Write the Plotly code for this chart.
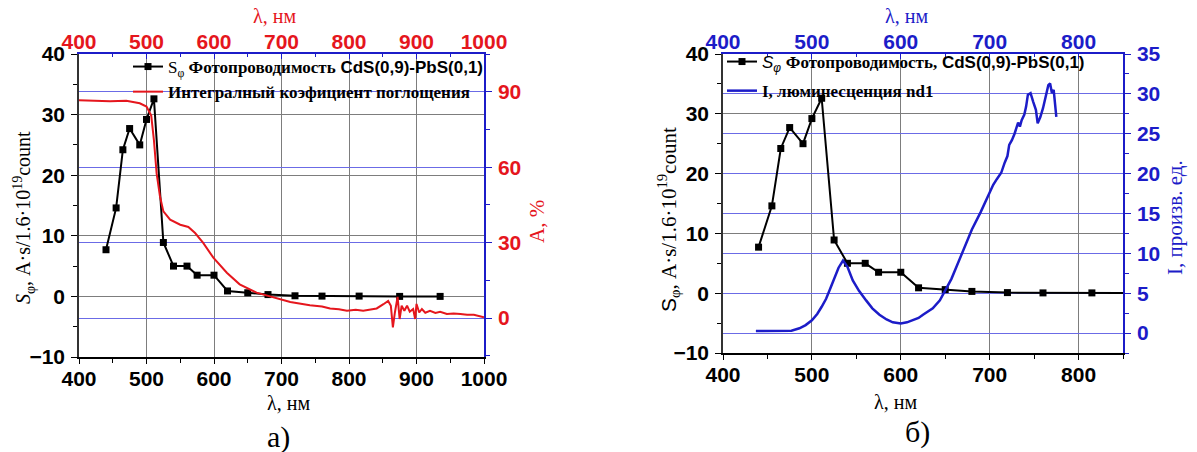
import plotly.graph_objects as go

# ---------------- data ----------------
# photoconductivity S_phi (both panels)
lam_s = [440, 455, 465, 475, 490, 500, 511, 525, 540, 560, 575, 600, 620, 650, 680, 720, 760, 815, 875, 935]
s_phi = [7.7, 14.6, 24.2, 27.7, 25.0, 29.2, 32.6, 8.9, 5.0, 5.0, 3.5, 3.5, 0.9, 0.6, 0.3, 0.1, 0.05, 0.05, 0.0, 0.0]

# integral absorption coefficient A, % (panel a)
lam_a = [400, 446, 470, 490, 500, 507, 511, 515, 520, 525, 535, 550, 562, 572, 584, 599, 619, 638, 663,
         688, 713, 742, 760, 772, 785, 797, 810, 821, 833, 841, 851, 858, 862, 865, 868, 872, 875, 878,
         882, 886, 890, 895, 898, 900, 904, 908, 913, 920, 928, 935, 945, 955, 965, 975, 985, 995, 1000]
absorb = [86.6, 86.2, 86.4, 85.4, 84.1, 80.5, 70.7, 57.5, 48.3, 42.4, 39.1, 37.1, 36.2, 33.8, 29.9, 24.0,
          18.0, 13.4, 10.1, 8.2, 6.4, 5.1, 4.6, 3.8, 3.5, 2.9, 3.3, 2.9, 3.4, 3.8, 5.5, 6.8, 4.9, -3.7,
          2.2, 8.4, -0.4, 4.9, 2.9, 4.9, 2.5, 3.6, -0.4, 5.6, 2.2, 3.6, 2.1, 2.9, 2.0, 2.5, 1.6, 1.8,
          1.6, 1.3, 1.3, 0.5, 0.3]

# luminescence I, arb. units (panel b)
lam_i = [437, 450, 465, 477, 486, 493, 500, 506, 511, 516, 520, 525, 530, 535, 540, 546, 553, 561, 568,
         576, 584, 591, 600, 607, 614, 620, 625, 631, 636, 644, 651, 657, 663, 668, 672, 680, 690, 700,
         704, 708, 713, 717, 720, 722, 725, 728, 730, 732, 734, 736, 739, 741, 743, 746, 749, 752, 754,
         757, 760, 763, 766, 768, 770, 772, 775]
lum = [0.25, 0.25, 0.25, 0.3, 0.6, 1.0, 1.6, 2.4, 3.3, 4.3, 5.4, 6.9, 8.2, 9.1, 8.3, 6.6, 5.3, 4.1, 3.1,
       2.3, 1.7, 1.35, 1.2, 1.35, 1.6, 1.9, 2.3, 2.7, 3.1, 4.1, 5.6, 6.8, 8.4, 9.8, 11.0, 13.0, 15.2, 17.7,
       18.6, 19.3, 20.1, 21.4, 22.2, 23.6, 24.2, 25.0, 25.7, 26.4, 25.9, 26.7, 27.4, 28.4, 29.9, 30.1,
       29.0, 28.0, 26.3, 27.1, 28.2, 29.6, 31.1, 31.3, 30.1, 30.5, 27.1]

# ---------------- style ----------------
W, H = 1197, 452
BLACK = "#000000"
RED = "#e5161d"
BLUE = "#1c1cc8"
GRID_GRAY = "#7d7d7d"
GRID_BLUE = "#6b6be6"
SANS = "Liberation Sans"
SERIF = "Liberation Serif"

def px(x):
    return x / W

def py(y):
    return 1 - y / H

L_X = [px(79), px(484)]
R_X = [px(723), px(1123)]
L_Y = [py(357), py(54)]
R_Y = [py(353), py(54)]

fig = go.Figure()

fig.add_trace(go.Scatter(
    x=lam_s, y=s_phi, xaxis="x", yaxis="y", mode="lines+markers",
    line=dict(color=BLACK, width=2), marker=dict(symbol="square", size=7, color=BLACK),
    name=("<span style='font-family:Liberation Serif'>S<sub>φ</sub> <b>Фотопроводимость</b></span>"
          " <b>CdS(0,9)-PbS(0,1)</b>"),
    legend="legend", legendgroup="a1"))
fig.add_trace(go.Scatter(
    x=lam_a, y=absorb, xaxis="x2", yaxis="y2", mode="lines",
    line=dict(color=RED, width=2),
    name="<span style='font-family:Liberation Serif'><b>Интегралный коэфициент поглощения</b></span>",
    legend="legend", legendgroup="a2"))
fig.add_trace(go.Scatter(
    x=lam_s, y=s_phi, xaxis="x3", yaxis="y3", mode="lines+markers",
    line=dict(color=BLACK, width=2), marker=dict(symbol="square", size=7, color=BLACK),
    name=("<i>S<sub>φ</sub></i> <span style='font-family:Liberation Serif'><b>Фотопроводимость,</b></span>"
          " <b>CdS(0,9)-PbS(0,1)</b>"),
    legend="legend2", legendgroup="b1"))
fig.add_trace(go.Scatter(
    x=lam_i, y=lum, xaxis="x4", yaxis="y4", mode="lines",
    line=dict(color=BLUE, width=2.5),
    name="<span style='font-family:Liberation Serif'><b>I, люминесценция nd1</b></span>",
    legend="legend2", legendgroup="b2"))

tickfont_k = dict(family=SANS, size=21, color=BLACK, weight="bold")
tickfont_r = dict(family=SANS, size=21, color=RED, weight="bold")
tickfont_b = dict(family=SANS, size=21, color=BLUE, weight="bold")
BOLD = dict(tickprefix="<b>", ticksuffix="</b>", automargin=False)

def xbottom(domain, rng, anchor, dtick=100):
    return dict(domain=domain, range=rng, anchor=anchor, side="bottom", dtick=dtick, tick0=0,
                showline=True, linecolor=BLACK, linewidth=1.5, ticks="outside", ticklen=5,
                tickcolor=BLACK, tickfont=tickfont_k, showgrid=True, gridcolor=GRID_GRAY,
                gridwidth=1, zeroline=False, ticklabelstandoff=-3,
                minor=dict(ticks="outside", ticklen=4, dtick=50, tickcolor=BLACK, showgrid=False),
                **BOLD)

def xtop(domain, rng, anchor, overlay, font):
    return dict(domain=domain, range=rng, anchor=anchor, overlaying=overlay, side="top", dtick=100,
                tick0=0, showline=True, linecolor=BLUE, linewidth=1.5, ticks="inside", ticklen=5,
                tickcolor=BLUE, tickfont=font, showgrid=False, zeroline=False, ticklabelstandoff=-5,
                minor=dict(ticks="inside", ticklen=3, dtick=50, tickcolor=BLUE), **BOLD)

def yleft(domain, anchor):
    return dict(domain=domain, range=[-10, 40], anchor=anchor, side="left", dtick=10,
                showline=True, linecolor="#333333", linewidth=1.5, ticks="outside", ticklen=6,
                tickcolor=BLACK, tickfont=tickfont_k, showgrid=True, gridcolor=GRID_GRAY,
                gridwidth=1, zeroline=False, ticklabelstandoff=2,
                minor=dict(ticks="outside", ticklen=4, dtick=5, tickcolor=BLACK, showgrid=False),
                **BOLD)

def yright(domain, anchor, overlay, rng, dtick, mdt, font):
    return dict(domain=domain, range=rng, anchor=anchor, overlaying=overlay, side="right",
                dtick=dtick, tick0=0, showline=True, linecolor=BLUE, linewidth=1.5, ticks="outside",
                ticklen=6, tickcolor=BLUE, tickfont=font, showgrid=True, gridcolor=GRID_BLUE,
                gridwidth=1, zeroline=False, ticklabelstandoff=2,
                minor=dict(ticks="outside", ticklen=4, dtick=mdt, tickcolor=BLUE, showgrid=False),
                **BOLD)

fig.update_layout(
    width=W, height=H, margin=dict(l=0, r=0, t=0, b=0, autoexpand=False),
    paper_bgcolor="white", plot_bgcolor="white",
    xaxis=xbottom(L_X, [400, 1000], "y"),
    xaxis2=xtop(L_X, [400, 1000], "y", "x", tickfont_r),
    yaxis=yleft(L_Y, "x"),
    yaxis2=yright(L_Y, "x", "y", [-15.5, 105], 30, 15, tickfont_r),
    xaxis3=xbottom(R_X, [400, 850], "y3"),
    xaxis4=xtop(R_X, [400, 850], "y3", "x3", tickfont_b),
    yaxis3=yleft(R_Y, "x3"),
    yaxis4=yright(R_Y, "x3", "y3", [-2.5, 35], 5, 2.5, tickfont_b),
    legend=dict(x=px(128), y=py(49), xanchor="left", yanchor="top", bgcolor="rgba(0,0,0,0)",
                font=dict(family=SANS, size=17, color=BLACK), itemwidth=30, tracegroupgap=0,
                traceorder="grouped"),
    legend2=dict(x=px(722), y=py(44), xanchor="left", yanchor="top", bgcolor="rgba(0,0,0,0)",
                 font=dict(family=SANS, size=17, color=BLACK), itemwidth=30, tracegroupgap=4,
                 traceorder="grouped"),
    showlegend=True,
)

ann = []

def add_text(x, y, text, size=20, color=BLACK, angle=0, family=SERIF):
    ann.append(dict(x=px(x), y=py(y), xref="paper", yref="paper", text=text, showarrow=False,
                    xanchor="center", yanchor="middle", textangle=angle,
                    font=dict(family=family, size=size, color=color)))

add_text(288, 403, "λ, нм")
add_text(274, 16, "λ, нм", color=RED)
add_text(895, 402, "λ, нм")
add_text(906, 16, "λ, нм", color=BLUE)
add_text(278, 437, "а)", size=30)
add_text(917, 432, "б)", size=30)
add_text(24, 218, "<i>S</i><sub>φ</sub>, A·s/1.6·10<sup>19</sup>count", size=20, angle=-90)
add_text(668, 220, "<span style='font-family:Liberation Sans'>S</span><sub>φ</sub>, A·s/1.6·10<sup>19</sup>count",
         size=21, angle=-90)
add_text(537, 222, "A, %", size=21, color=RED, angle=-90)
add_text(1175, 218, "I, произв. ед.", size=21, color=BLUE, angle=-90)

fig.update_layout(annotations=ann)

fig.write_html("out.html")
